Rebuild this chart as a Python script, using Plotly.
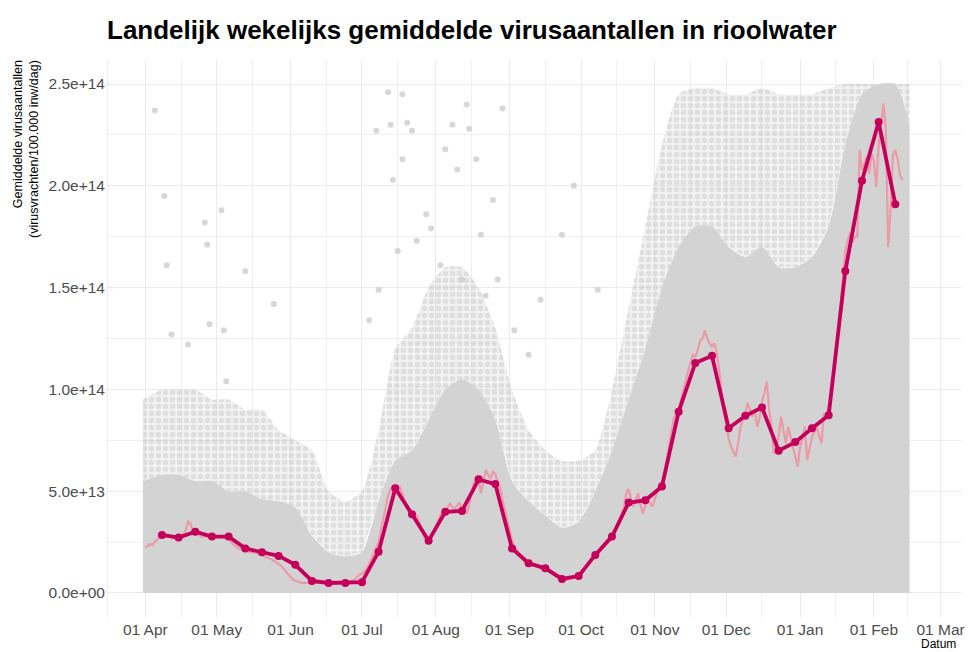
import plotly.graph_objects as go
import pandas as pd

# ---------------- data (values in units of 1e13) ----------------
UNIT = 1e13

title_text = "Landelijk wekelijks gemiddelde virusaantallen in rioolwater"
y_title = "Gemiddelde virusaantallen<br>(virusvrachten/100.000 inw/dag)"
x_title = "Datum"

x_tick_dates = ["2020-04-01", "2020-05-01", "2020-06-01", "2020-07-01", "2020-08-01",
                "2020-09-01", "2020-10-01", "2020-11-01", "2020-12-01", "2021-01-01",
                "2021-02-01", "2021-03-01"]
x_tick_labels = ["01 Apr", "01 May", "01 Jun", "01 Jul", "01 Aug", "01 Sep", "01 Oct",
                 "01 Nov", "01 Dec", "01 Jan", "01 Feb", "01 Mar"]
y_tick_values = [0, 5e13, 1e14, 1.5e14, 2e14, 2.5e14]
y_tick_labels = ["0.0e+00", "5.0e+13", "1.0e+14", "1.5e+14", "2.0e+14", "2.5e+14"]

# weekly means (dark line), one per week starting 2020-04-08
weekly_start = "2020-04-08"
weekly_values = [2.85, 2.72, 3.01, 2.77, 2.77, 2.19, 2.00, 1.82, 1.38, 0.59,
                 0.49, 0.49, 0.53, 2.03, 5.14, 3.87, 2.57, 3.99, 4.03, 5.58,
                 5.35, 2.19, 1.46, 1.21, 0.69, 0.83, 1.87, 2.77, 4.44, 4.55,
                 5.23, 8.90, 11.30, 11.65, 8.09, 8.70, 9.11, 6.99, 7.41, 8.09,
                 8.73, 15.82, 20.25, 23.13, 19.10]

# daily means (light pink line), one per day starting 2020-04-01
daily_start = "2020-04-01"
daily_values = [
    2.25, 2.30, 2.40, 2.35, 2.50, 2.65, 2.75,
    2.85, 2.80, 2.75, 2.80, 2.70, 2.75, 2.70,
    2.72, 2.75, 2.85, 3.10, 3.50, 3.40, 3.00,
    3.00, 2.95, 2.80, 2.75, 2.80, 2.75, 2.78,
    2.78, 2.75, 2.80, 2.70, 2.78, 2.75, 2.72,
    2.65, 2.50, 2.40, 2.30, 2.20, 2.15, 2.12,
    2.15, 2.05, 2.00, 1.98, 2.00, 1.95, 1.92,
    1.85, 1.80, 1.78, 1.72, 1.65, 1.58, 1.50,
    1.42, 1.35, 1.20, 1.05, 0.90, 0.75, 0.65,
    0.60, 0.55, 0.52, 0.50, 0.50, 0.48, 0.50,
    0.50, 0.48, 0.47, 0.50, 0.48, 0.50, 0.49,
    0.48, 0.50, 0.50, 0.52, 0.50, 0.52, 0.50,
    0.53, 0.50, 0.55, 0.60, 0.65, 0.80, 0.90,
    0.95, 1.05, 1.20, 1.40, 1.70, 2.00, 2.30,
    2.50, 3.10, 3.70, 4.30, 4.80, 5.10, 5.25,
    5.20, 5.25, 5.20, 4.80, 4.40, 4.10, 3.95,
    3.90, 3.85, 3.80, 3.50, 3.10, 2.80, 2.60,
    2.55, 2.70, 3.00, 3.30, 3.60, 3.85, 4.00,
    3.95, 4.20, 4.40, 4.20, 4.15, 4.30, 4.45,
    4.10, 4.20, 3.90, 4.30, 4.90, 5.40, 5.70,
    5.60, 4.90, 5.50, 6.05, 5.80, 5.60, 5.95,
    5.85, 5.40, 5.20, 4.60, 4.10, 3.50, 3.10,
    2.60, 2.30, 2.10, 1.90, 1.75, 1.60, 1.50,
    1.50, 1.45, 1.40, 1.40, 1.35, 1.30, 1.25,
    1.20, 1.15, 1.05, 0.95, 0.85, 0.78, 0.72,
    0.70, 0.68, 0.65, 0.70, 0.72, 0.78, 0.80,
    0.82, 0.90, 1.05, 1.25, 1.40, 1.60, 1.75,
    1.85, 2.00, 2.20, 2.35, 2.50, 2.65, 2.75,
    2.80, 3.00, 3.25, 3.55, 3.85, 4.20, 4.90,
    5.10, 4.60, 4.25, 4.60, 4.90, 4.30, 3.90,
    4.30, 4.55, 4.40, 4.25, 4.60, 4.95, 5.40,
    5.40, 5.90, 6.60, 7.30, 7.90, 8.60, 8.80,
    9.00, 9.50, 10.00, 10.40, 10.90, 11.30, 11.70,
    11.60, 11.90, 12.40, 12.50, 12.90, 12.50, 12.26,
    12.10, 12.26, 11.80, 10.95, 10.00, 8.80, 8.30,
    7.60, 7.19, 6.95, 6.70, 7.40, 8.17, 8.50,
    8.83, 9.32, 9.00, 8.66, 8.99, 8.17, 8.60,
    9.40, 9.81, 10.38, 9.00, 8.17, 6.86, 7.30,
    7.68, 8.66, 8.00, 7.35, 8.17, 7.68, 7.20,
    6.60, 6.20, 7.19, 7.60, 8.17, 6.53, 7.10,
    7.68, 7.90, 8.17, 7.70, 7.35, 8.83, 8.60,
    9.20, 9.80, 10.46, 11.50, 12.80, 14.20, 15.50,
    16.80, 17.30, 17.70, 17.20, 17.50, 17.50, 21.76,
    20.78, 21.10, 21.43, 20.60, 21.60, 21.20, 19.96,
    22.00, 22.90, 24.05, 22.74, 17.00, 18.80, 21.50,
    21.76, 21.27, 20.50, 20.28,
]

# cloud of individual plant measurements, summarised as envelopes
cloud_dates = ["2020-03-31"] + [str(d.date()) for d in pd.date_range(weekly_start, periods=45, freq="7D")] + ["2021-02-16"]
cloud_dense_top = [5.5, 5.8, 5.8, 5.5, 5.5, 5.0, 5.0, 4.6, 4.5, 4.2,
                   2.8, 2.0, 1.8, 2.0, 4.5, 6.5, 7.0, 8.5, 10.0, 10.5,
                   10.0, 8.5, 5.5, 4.5, 3.8, 3.2, 3.5, 5.0, 7.0, 9.5,
                   12.0, 15.0, 17.0, 18.0, 18.0, 17.0, 16.5, 17.0, 16.0, 16.0,
                   16.5, 18.0, 22.0, 24.5, 25.0, 25.0, 23.0]
cloud_sparse_top = [9.5, 10.0, 10.0, 10.0, 9.5, 9.5, 9.0, 9.0, 8.0, 7.5,
                    7.0, 5.0, 4.5, 5.0, 8.0, 12.0, 13.0, 15.0, 16.0, 16.0,
                    15.0, 13.0, 10.0, 8.0, 7.0, 6.5, 6.5, 7.0, 10.0, 14.0,
                    18.0, 22.0, 24.5, 24.8, 24.8, 24.5, 24.5, 24.8, 24.5, 24.5,
                    24.5, 24.8, 25.0, 25.0, 25.0, 25.0, 25.0]

# isolated high measurements
outlier_dates = ["2020-04-05", "2020-04-09", "2020-04-10", "2020-04-12", "2020-04-19",
                 "2020-04-26", "2020-04-27", "2020-04-28", "2020-05-03", "2020-05-04",
                 "2020-05-05", "2020-05-13", "2020-05-25", "2020-07-04", "2020-07-07",
                 "2020-07-08", "2020-07-12", "2020-07-13", "2020-07-14", "2020-07-16",
                 "2020-07-18", "2020-07-18", "2020-07-20", "2020-07-22", "2020-07-24",
                 "2020-07-28", "2020-07-30", "2020-08-03", "2020-08-05", "2020-08-08",
                 "2020-08-10", "2020-08-12", "2020-08-14", "2020-08-15", "2020-08-18",
                 "2020-08-20", "2020-08-22", "2020-08-25", "2020-08-27", "2020-08-29",
                 "2020-09-03", "2020-09-09", "2020-09-14", "2020-09-23", "2020-09-28",
                 "2020-10-08"]
outlier_values = [23.7, 19.5, 16.1, 12.7, 12.2, 18.2, 17.1, 13.2, 18.8, 12.9,
                  10.4, 15.8, 14.2, 13.4, 22.7, 14.9, 24.6, 23.0, 20.3, 16.8,
                  24.5, 21.3, 23.1, 22.7, 17.3, 18.6, 17.9, 16.1, 21.8, 23.0,
                  20.8, 15.4, 24.0, 22.8, 21.3, 17.6, 14.6, 19.3, 15.4, 23.8,
                  12.9, 11.7, 14.4, 17.6, 20.0, 14.9]

# ---------------- figure ----------------
FONT = "Liberation Sans, Arial, Helvetica, sans-serif"
DARK = "#c5005b"
PINK = "rgba(241,140,156,0.80)"
GRAY = "#d3d3d3"

weekly_dates = pd.date_range(weekly_start, periods=len(weekly_values), freq="7D")
daily_dates = pd.date_range(daily_start, periods=len(daily_values), freq="D")

fig = go.Figure()

# sparse part of the cloud (dotted)
fig.add_trace(go.Scatter(x=cloud_dates, y=[v * UNIT for v in cloud_dense_top],
                         mode="lines", line=dict(width=0), hoverinfo="skip", showlegend=False))
fig.add_trace(go.Scatter(x=cloud_dates, y=[v * UNIT for v in cloud_sparse_top],
                         mode="lines", line=dict(width=0, shape="spline", smoothing=0.6),
                         fill="tonexty", fillcolor="rgba(211,211,211,0.30)",
                         fillpattern=dict(shape=".", fgcolor="#cccccc", size=7, solidity=0.45,
                                          fillmode="overlay"),
                         hoverinfo="skip", showlegend=False))
# dense part of the cloud
fig.add_trace(go.Scatter(x=cloud_dates, y=[0] * len(cloud_dates),
                         mode="lines", line=dict(width=0), hoverinfo="skip", showlegend=False))
fig.add_trace(go.Scatter(x=cloud_dates, y=[v * UNIT for v in cloud_dense_top],
                         mode="lines", line=dict(width=0, shape="spline", smoothing=0.6),
                         fill="tonexty", fillcolor=GRAY,
                         hoverinfo="skip", showlegend=False))
# isolated points
fig.add_trace(go.Scatter(x=outlier_dates, y=[v * UNIT for v in outlier_values],
                         mode="markers", marker=dict(size=6, color="rgba(208,208,208,0.85)"),
                         hoverinfo="skip", showlegend=False))
# daily line
fig.add_trace(go.Scatter(x=daily_dates, y=[v * UNIT for v in daily_values],
                         mode="lines", line=dict(color=PINK, width=2.2),
                         showlegend=False))
# weekly line
fig.add_trace(go.Scatter(x=weekly_dates, y=[v * UNIT for v in weekly_values],
                         mode="lines+markers", line=dict(color=DARK, width=3.8),
                         marker=dict(color=DARK, size=8), showlegend=False))

# minor gridlines midway between month ticks
month_edges = pd.date_range("2020-03-01", "2021-03-01", freq="MS")
minor_x = [str((a + (b - a) / 2).date()) for a, b in zip(month_edges[:-1], month_edges[1:])]
minor_y = [(a + b) / 2 for a, b in zip(y_tick_values[:-1], y_tick_values[1:])]

fig.update_layout(
    width=970, height=652,
    margin=dict(l=106, r=5, t=60, b=34),
    paper_bgcolor="white", plot_bgcolor="white",
    font=dict(family=FONT, size=15, color="#4d4d4d"),
    title=dict(text="<b>" + title_text + "</b>", x=107 / 970, xanchor="left", xref="container",
               y=1 - 30 / 652, yanchor="middle", yref="container",
               font=dict(family=FONT, size=26, color="#000000")),
    xaxis=dict(range=["2020-03-15 12:00", "2021-03-10"], tickmode="array",
               tickvals=x_tick_dates, ticktext=x_tick_labels, showgrid=True,
               gridcolor="#ebebeb", gridwidth=1, zeroline=False, showline=False,
               ticks="", tickfont=dict(size=15.5, color="#4d4d4d"),
               minor=dict(tickmode="array", tickvals=minor_x, showgrid=True,
                          gridcolor="#efefef", gridwidth=0.8)),
    yaxis=dict(range=[-1.23e13, 2.618e14], tickmode="array", tickvals=y_tick_values,
               ticktext=y_tick_labels, showgrid=True, gridcolor="#ebebeb", gridwidth=1,
               zeroline=False, showline=False, ticks="",
               tickfont=dict(size=15.5, color="#4d4d4d"),
               minor=dict(tickmode="array", tickvals=minor_y, showgrid=True,
                          gridcolor="#efefef", gridwidth=0.8)),
    annotations=[
        dict(text=y_title, xref="paper", yref="paper", x=0, y=1, xshift=-80, yshift=2,
             xanchor="center", yanchor="top", textangle=-90, align="right",
             showarrow=False, font=dict(family=FONT, size=12.5, color="#000000")),
        dict(text=x_title, xref="paper", yref="paper", x=1, y=0, xshift=-4, yshift=-26,
             xanchor="right", yanchor="middle", showarrow=False,
             font=dict(family=FONT, size=12, color="#000000")),
    ],
)

fig.write_html("out.html", config={"displayModeBar": False},
               post_script="document.body.style.margin='0';document.body.style.overflow='hidden';")
